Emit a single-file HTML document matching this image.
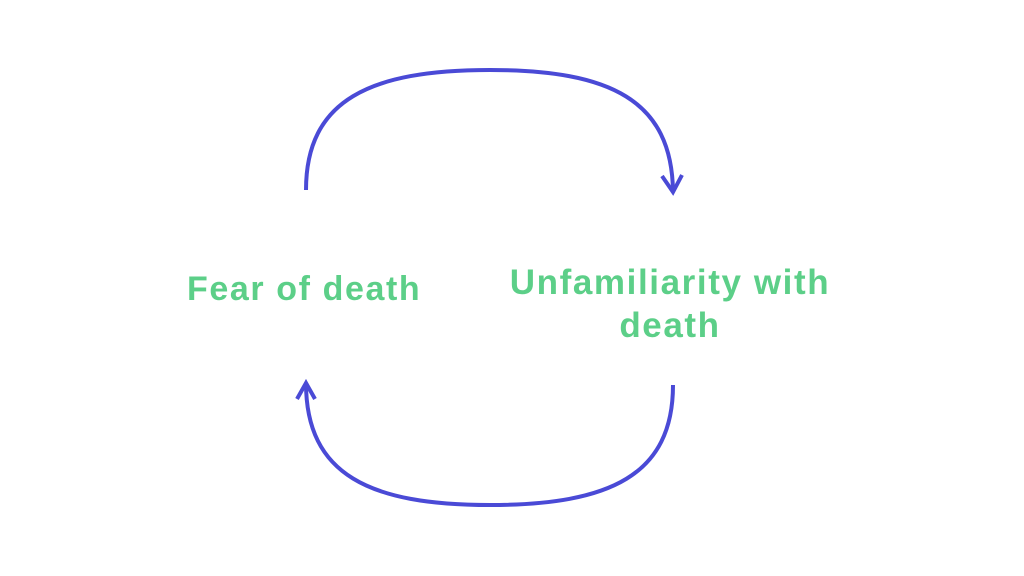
<!DOCTYPE html>
<html><head><style>
html,body{margin:0;padding:0;background:#fff;width:1024px;height:576px;overflow:hidden}
.t{position:absolute;font-family:"Liberation Sans",sans-serif;font-weight:bold;color:#5ccf88;font-size:34px;letter-spacing:1.6px;white-space:nowrap}
</style></head><body>
<svg width="1024" height="576" style="position:absolute;left:0;top:0">
<g fill="none" stroke="#4a4ad6" stroke-width="4" stroke-linecap="butt" stroke-linejoin="miter">
<path d="M306,190 C306,100 370,70 490,70 C610,70 672,100 673,192"/>
<path d="M662,176 L673,192 L682,175"/>
<path d="M673,385 C673,475 610,505 490,505 C370,505 306,475 306,383"/>
<path d="M297,399 L306,383 L315,399"/>
</g>
</svg>
<div class="t" style="left:187px;top:270px">Fear of death</div>
<div class="t" style="left:420px;width:500px;text-align:center;top:261px;line-height:43px;font-size:35px">Unfamiliarity with<br>death</div>
</body></html>
